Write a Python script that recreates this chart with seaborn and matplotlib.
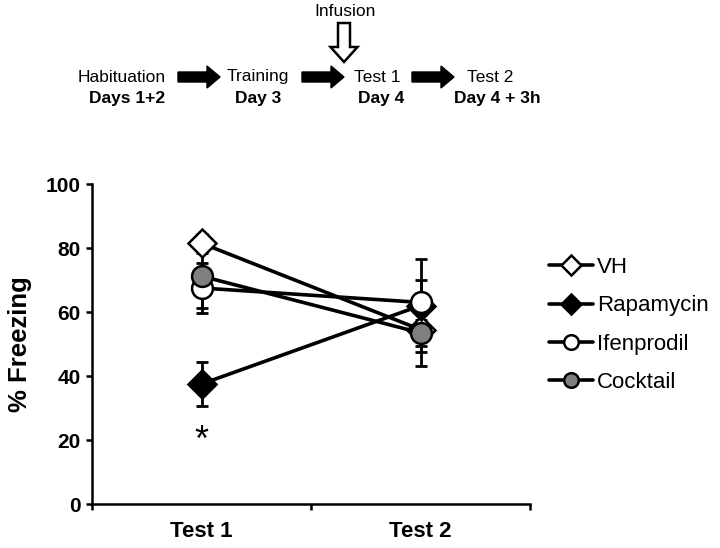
import matplotlib
matplotlib.use("Agg")
import matplotlib.pyplot as plt
import seaborn as sns
import pandas as pd
from matplotlib.patches import FancyArrow

# ---- data ----
tests = ["Test 1", "Test 2"]
groups = ["VH", "Rapamycin", "Ifenprodil", "Cocktail"]
vh_mean = [81.5, 54.5]
vh_err = [3.0, 11.5]
rapa_mean = [37.5, 62.0]
rapa_err = [6.8, 14.5]
ifen_mean = [67.5, 63.0]
ifen_err = [7.8, 7.0]
cock_mean = [71.2, 53.5]
cock_err = [10.0, 4.0]
yticks = [0, 20, 40, 60, 80, 100]

means = [vh_mean, rapa_mean, ifen_mean, cock_mean]
errs = [vh_err, rapa_err, ifen_err, cock_err]
markers = ["D", "D", "o", "o"]
faces = ["white", "black", "white", "#7f7f7f"]
msizes = [14.5, 14.5, 15, 15]

sns.set_style("ticks", {"axes.edgecolor": "black", "xtick.color": "black",
                        "ytick.color": "black", "text.color": "black",
                        "axes.labelcolor": "black"})
plt.rcParams['font.family'] = ['Liberation Sans', 'DejaVu Sans']

fig = plt.figure(figsize=(7.2, 5.48), dpi=100)
ax = fig.add_axes([92/720, 1-504/548, (530-92)/720, (504-184)/548])

xpos = [0.5, 1.5]
for i, g in enumerate(groups):
    ax.errorbar(xpos, means[i], yerr=errs[i], fmt="none", ecolor="black",
                elinewidth=2, capsize=4.5, capthick=2, zorder=1.5)
for i, g in enumerate(groups):
    df = pd.DataFrame({"x": xpos, "y": means[i]})
    sns.lineplot(data=df, x="x", y="y", ax=ax, color="black", linewidth=2.6,
                 marker=markers[i], markersize=msizes[i], markerfacecolor=faces[i],
                 markeredgecolor="black", markeredgewidth=1.8, zorder=3 + i,
                 label=g)

ax.text(0.5, 19.5, "*", ha="center", va="center", fontsize=26, color="black")

ax.set_xlim(0, 2)
ax.set_ylim(0, 100)
ax.set_xticks([0, 1, 2])
ax.set_xticklabels([])
ax.set_xticks(xpos, minor=True)
ax.set_xticklabels(tests, minor=True, fontsize=16, fontweight="bold", color="black")
ax.tick_params(axis="x", which="minor", length=0, pad=12)
ax.tick_params(axis="x", which="major", length=4, width=1.8, direction="out")
ax.set_yticks(yticks)
ax.set_yticklabels([str(t) for t in yticks], fontsize=15, fontweight="bold", color="black")
ax.tick_params(axis="y", length=4, width=1.8, direction="out", pad=4)
ax.set_xlabel("")
ax.set_ylabel("% Freezing", fontsize=18.5, fontweight="bold", labelpad=10, color="black")
for s in ["top", "right"]:
    ax.spines[s].set_visible(False)
for s in ["left", "bottom"]:
    ax.spines[s].set_linewidth(1.8)
    ax.spines[s].set_color("black")

h, l = ax.get_legend_handles_labels()
ax.get_legend().remove()
fig.legend(h, l, loc="center left", bbox_to_anchor=(549/720, 1-325/548),
           frameon=False, fontsize=16, handlelength=2.0, handletextpad=0.15,
           labelspacing=0.78, markerscale=0.7, borderpad=0, borderaxespad=0)

# ---- top diagram (pixel coordinates -> figure fraction) ----
def fx(px):
    return px / 720
def fy(py):
    return 1 - py / 548

fig.text(fx(122), fy(77), "Habituation", ha="center", va="center", fontsize=12.5)
fig.text(fx(127), fy(99), "Days 1+2", ha="center", va="center", fontsize=12.5, fontweight="bold")
fig.text(fx(258), fy(77), "Training", ha="center", va="center", fontsize=12.5)
fig.text(fx(258), fy(99), "Day 3", ha="center", va="center", fontsize=12.5, fontweight="bold")
fig.text(fx(377), fy(77), "Test 1", ha="center", va="center", fontsize=12.5)
fig.text(fx(381), fy(99), "Day 4", ha="center", va="center", fontsize=12.5, fontweight="bold")
fig.text(fx(490), fy(77), "Test 2", ha="center", va="center", fontsize=12.5)
fig.text(fx(497), fy(99), "Day 4 + 3h", ha="center", va="center", fontsize=12.5, fontweight="bold")
fig.text(fx(345), fy(12), "Infusion", ha="center", va="center", fontsize=12.5)

inch = fig.dpi_scale_trans
def pin(px, py):
    return px / 100, (548 - py) / 100

for x0, x1 in [(178, 220), (302, 344), (412, 454)]:
    xs, ys = pin(x0, 77)
    arr = FancyArrow(xs, ys, (x1 - x0) / 100, 0, width=0.10, head_width=0.22,
                     head_length=0.13, length_includes_head=True,
                     color="black", transform=inch)
    fig.add_artist(arr)

xs, ys = pin(344, 23)
down = FancyArrow(xs, ys, 0, -(62 - 23) / 100, width=0.12, head_width=0.27,
                  head_length=0.15, length_includes_head=True,
                  facecolor="white", edgecolor="black", linewidth=1.8, transform=inch)
fig.add_artist(down)

fig.savefig("out.png", dpi=100)
